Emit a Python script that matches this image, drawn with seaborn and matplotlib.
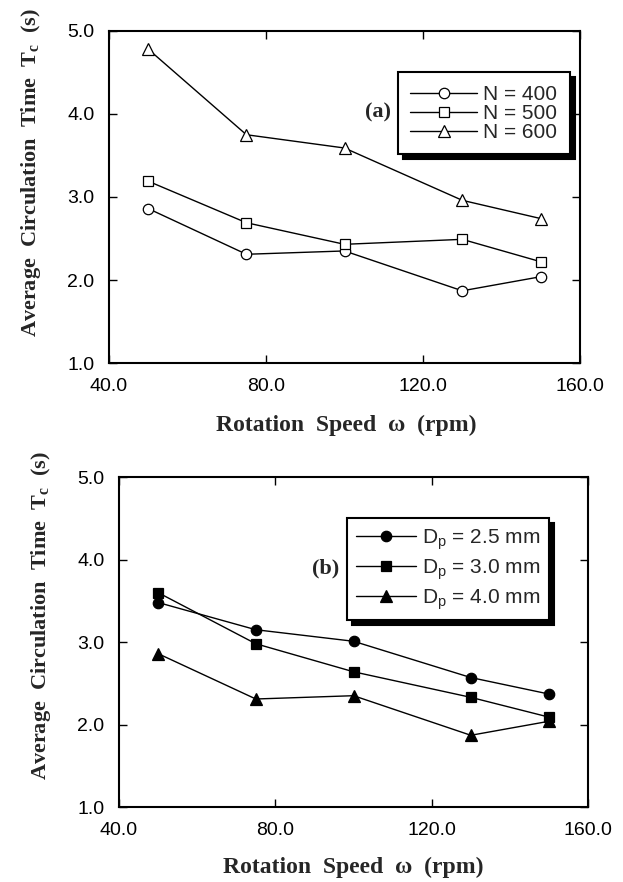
import seaborn as sns
import matplotlib.pyplot as plt
import pandas as pd

# rotation speed (rpm)
speed = [50, 75, 100, 130, 150]

# (a) circulation time vs number of particles
tc_n400 = [2.86, 2.31, 2.35, 1.87, 2.04]
tc_n500 = [3.19, 2.69, 2.43, 2.49, 2.22]
tc_n600 = [4.78, 3.75, 3.59, 2.96, 2.74]
labels_a = ["N = 400", "N = 500", "N = 600"]

# (b) circulation time vs particle diameter
tc_d25 = [3.48, 3.15, 3.01, 2.57, 2.37]
tc_d30 = [3.60, 2.98, 2.64, 2.33, 2.09]
tc_d40 = [2.86, 2.31, 2.35, 1.87, 2.04]
labels_b = ["D$_\\mathregular{p}$ = 2.5 mm", "D$_\\mathregular{p}$ = 3.0 mm", "D$_\\mathregular{p}$ = 4.0 mm"]

xticks = [40, 80, 120, 160]
yticks = [1, 2, 3, 4, 5]

sns.set_style("ticks")
plt.rcParams['font.family'] = ['Liberation Sans', 'DejaVu Sans']

SERIF = ['Liberation Serif', 'DejaVu Serif']


def panel(ax, series, labels, filled, tag, legend_anchor, tag_xy, leg_kw, label_coords):
    for vals, lab, mk in zip(series, labels, ['o', 's', '^']):
        df = pd.DataFrame({"speed": speed, "tc": vals})
        sns.lineplot(x="speed", y="tc", data=df, ax=ax, color="black", linewidth=1.0,
                     marker=mk, markersize=7.5 if mk != '^' else 8,
                     markerfacecolor="black" if filled else "white",
                     markeredgecolor="black", markeredgewidth=0.9, label=lab)
    ax.set_xlim(40, 160)
    ax.set_ylim(1.0, 5.0)
    ax.set_xticks(xticks)
    ax.set_xticklabels(["%.1f" % v for v in xticks])
    ax.set_yticks(yticks)
    ax.set_yticklabels(["%.1f" % v for v in yticks])
    ax.tick_params(direction="in", top=True, right=True, length=6, width=1.0,
                   labelsize=14, colors="black")
    ax.tick_params(axis="y", pad=10.5)
    ax.tick_params(axis="x", pad=11)
    for s in ax.spines.values():
        s.set_linewidth(1.5)
        s.set_color("black")
    ax.set_xlabel("Rotation  Speed  \u03c9  (rpm)", family=SERIF, fontweight="bold", fontsize=17)
    ax.set_ylabel("Average  Circulation  Time  T$_\\mathregular{c}$  (s)", family=SERIF,
                  fontweight="bold", fontsize=16)
    ax.xaxis.set_label_coords(*label_coords[0])
    ax.yaxis.set_label_coords(*label_coords[1])
    leg = ax.legend(loc="center", bbox_to_anchor=legend_anchor, frameon=True, fancybox=False,
                    shadow={"facecolor": "black", "edgecolor": "black", "alpha": 1.0,
                            "ox": 3.5, "oy": -3.5},
                    edgecolor="black", framealpha=1, fontsize=15,
                    handletextpad=0.3, borderaxespad=0, **leg_kw)
    leg.get_frame().set_linewidth(1.5)
    ax.text(tag_xy[0], tag_xy[1], tag, transform=ax.transAxes, family=SERIF,
            fontweight="bold", fontsize=16, ha="center", va="center")


fig = plt.figure(figsize=(6.23, 8.82), dpi=100)
ax_a = fig.add_axes([0.175, 0.5884, 0.756, 0.3765])
ax_b = fig.add_axes([0.191, 0.085, 0.753, 0.374])

panel(ax_a, [tc_n400, tc_n500, tc_n600], labels_a, False, "(a)",
      (0.796, 0.7515), (0.572, 0.753),
      dict(labelspacing=0.0, borderpad=0.6, handlelength=3.2),
      ((0.503, -0.155), (-0.14, 0.575)))
panel(ax_b, [tc_d25, tc_d30, tc_d40], labels_b, True, "(b)",
      (0.7015, 0.721), (0.441, 0.724),
      dict(labelspacing=0.25, borderpad=0.4, handlelength=2.9),
      ((0.5, -0.15), (-0.14, 0.58)))

fig.savefig("out.png", dpi=100)
